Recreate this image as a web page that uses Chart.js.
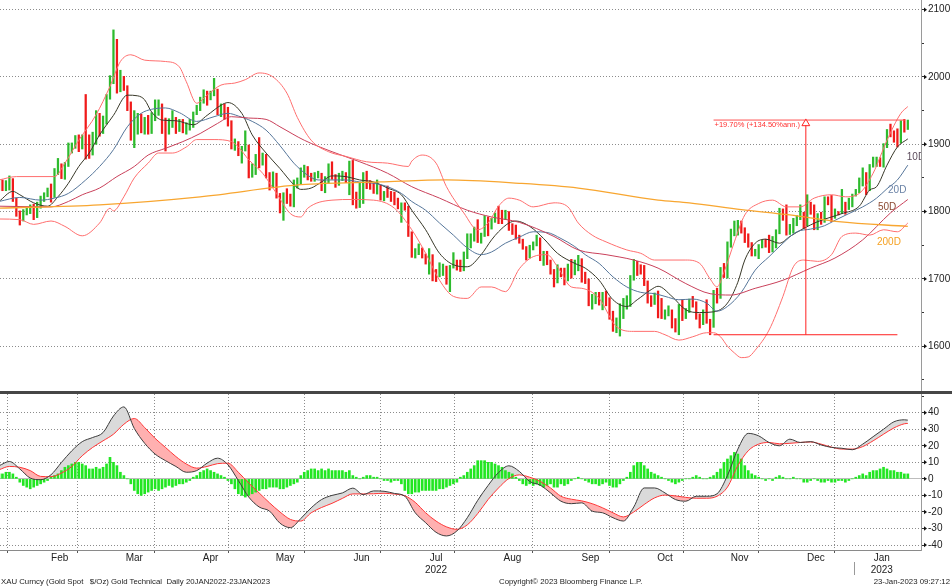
<!DOCTYPE html>
<html><head><meta charset="utf-8">
<script src="https://cdn.jsdelivr.net/npm/chart.js@4.4.1/dist/chart.umd.min.js"></script>
<style>
html,body{margin:0;padding:0;background:#fff;width:952px;height:586px;overflow:hidden;}
#top{position:absolute;left:0;top:0;width:952px;height:391px;}
#sep{position:absolute;left:0;top:391px;width:952px;height:3px;background:#464646;}
#bot{position:absolute;left:0;top:394px;width:952px;height:192px;}
.ft{position:absolute;top:577px;line-height:9px;font-size:7.8px;font-family:"Liberation Sans",Arial,sans-serif;color:#222;white-space:pre;}
</style></head><body>
<div id="top"><canvas id="c1"></canvas></div>
<div id="sep"></div>
<div id="bot"><canvas id="c2"></canvas></div>
<div class="ft" style="left:1px">XAU Curncy (Gold Spot   $/Oz) Gold Technical  Daily 20JAN2022-23JAN2023</div>
<div class="ft" style="left:499px">Copyright© 2023 Bloomberg Finance L.P.</div>
<div class="ft" style="right:2px">23-Jan-2023 09:27:12</div>
<script>
// ---------- DATA (trading-day index 0 = 20 Jan 2022 ... 262 = 23 Jan 2023) ----------
const high = [1848,1847,1846,1853,1849,1820,1801,1803,
1807,1810,1811,1814,1823,1828,1835,1841,1864,1879,1871,1873,1902,1902,1913,1914,1914,1974,1914,1918,
1950,1946,1942,1974,2002,2070,2056,2010,2001,1987,1963,1950,1946,1945,1940,1943,1947,1966,1966,1960,1939,1938,1950,
1940,1937,1937,1932,1937,1948,1958,1970,1981,1979,1979,1998,1982,1960,1960,1955,1935,1908,1904,1897,1920,
1899,1871,1885,1910,1887,1885,1858,1859,1857,1827,1828,1834,1826,1847,1850,1865,1869,1867,1857,1858,1860,1857,
1852,1871,1874,1855,1857,1860,1858,1875,1876,1829,1842,1858,1860,1846,1842,1847,1839,1830,1838,1830,1829,1820,
1813,1813,1808,1770,1745,1752,1746,1737,1745,1736,1714,1724,1722,1719,1720,1739,1728,1728,1740,1767,1767,
1777,1788,1768,1794,1792,1790,1798,1808,1802,1802,1800,1782,1780,1765,1759,1748,1750,1755,1765,1761,1741,1741,1728,
1714,1721,1716,1716,1722,1729,1728,1735,1730,1710,1700,1677,1680,1680,1680,1682,1672,1652,1642,1663,1671,1675,
1705,1729,1726,1721,1720,1697,1675,1679,1682,1671,1654,1660,1654,1641,1662,1669,1656,1670,1674,1666,1648,
1654,1669,1640,1683,1686,1717,1723,1755,1774,1786,1787,1786,1776,1767,1754,1744,1751,1758,1759,1765,1763,1773,
1805,1804,1810,1781,1790,1794,1810,1799,1825,1814,1810,1797,1799,1822,1822,1824,1804,1800,1833,1814,1820,1826,
1833,1850,1865,1858,1870,1881,1881,1880,1901,1922,1930,1920,1923,1935,1937,1936];
const low = [1832,1831,1831,1832,1815,1793,1780,1786,
1795,1797,1788,1791,1805,1815,1822,1814,1821,1855,1849,1848,1867,1887,1894,1889,1893,1878,1879,1884,
1900,1912,1916,1930,1967,1990,1976,1978,1980,1950,1906,1895,1915,1917,1915,1915,1916,1935,1943,1916,1890,1915,1925,
1916,1919,1917,1915,1921,1925,1944,1950,1961,1958,1966,1972,1944,1941,1937,1927,1893,1891,1883,1872,1890,
1850,1851,1855,1865,1869,1850,1832,1836,1820,1798,1787,1812,1808,1807,1835,1840,1851,1847,1845,1845,1850,1831,
1828,1842,1848,1836,1839,1846,1843,1825,1810,1805,1806,1812,1834,1833,1827,1826,1817,1816,1821,1815,1810,1804,
1784,1802,1763,1732,1731,1736,1731,1722,1707,1697,1696,1703,1705,1692,1681,1716,1713,1711,1712,1730,1746,
1756,1754,1753,1763,1764,1774,1784,1782,1782,1788,1772,1766,1759,1753,1744,1728,1731,1743,1749,1727,1720,1721,1707,
1688,1694,1703,1691,1697,1701,1706,1712,1695,1693,1660,1655,1663,1661,1654,1660,1640,1622,1620,1615,1641,1655,
1659,1698,1705,1707,1690,1664,1659,1662,1642,1641,1640,1645,1627,1621,1617,1638,1641,1650,1658,1640,1627,
1632,1634,1617,1628,1664,1671,1702,1701,1747,1764,1765,1768,1754,1747,1734,1734,1730,1746,1747,1739,1740,1746,
1767,1787,1765,1766,1768,1779,1788,1775,1779,1796,1773,1773,1781,1784,1810,1785,1790,1795,1797,1796,1803,1807,
1823,1828,1838,1825,1831,1866,1867,1867,1866,1895,1911,1903,1896,1902,1918,1922];
const close = [1840,1835,1843,1848,1818,1797,1791,1797,
1801,1807,1805,1808,1821,1826,1833,1827,1859,1871,1853,1870,1898,1898,1906,1898,1910,1903,1889,1909,
1943,1922,1935,1970,1998,2050,1988,2000,1988,1960,1917,1928,1943,1921,1935,1921,1944,1958,1958,1923,1920,1933,1937,
1925,1932,1923,1925,1932,1946,1954,1966,1977,1970,1975,1979,1950,1958,1951,1932,1898,1904,1886,1894,1897,
1863,1868,1881,1876,1883,1854,1838,1853,1822,1811,1825,1818,1816,1841,1846,1853,1866,1853,1851,1853,1856,1837,
1848,1869,1851,1841,1852,1853,1848,1871,1819,1809,1834,1857,1840,1839,1832,1838,1822,1827,1823,1820,1817,1807,
1811,1808,1764,1739,1740,1742,1733,1725,1735,1711,1708,1709,1711,1696,1718,1727,1719,1717,1734,1756,1766,
1772,1760,1765,1791,1775,1789,1794,1792,1789,1802,1779,1775,1761,1758,1747,1736,1748,1751,1758,1737,1738,1723,1711,
1697,1712,1710,1702,1718,1708,1716,1725,1702,1697,1665,1675,1675,1664,1673,1671,1644,1622,1629,1660,1660,1661,
1699,1725,1716,1712,1695,1668,1666,1673,1666,1644,1650,1652,1629,1627,1657,1649,1652,1665,1663,1645,1633,
1647,1636,1630,1681,1676,1712,1706,1755,1771,1771,1778,1774,1761,1751,1738,1741,1750,1755,1754,1741,1750,1768,
1802,1797,1769,1770,1787,1789,1797,1781,1810,1807,1777,1793,1788,1817,1814,1792,1798,1797,1814,1804,1815,1824,
1828,1839,1855,1833,1865,1872,1877,1876,1897,1920,1917,1908,1904,1932,1926,1930];

const ma10X = [0,4,6,10,14,17,20,23,26,29,33,37,40,42,44,47,51,56,60,64,66,70,73,77,81,85,87,90,93,96,100,104,108,112,116,119,123,127,131,135,139,142,144,147,149,153,157,161,166,169,173,177,181,184,188,190,194,198,202,206,210,213,215,218,221,225,228,232,236,240,243,248,251,253,256,259,262];
const ma10 = [1815,1830,1825,1813,1808,1822,1842,1867,1887,1914,1943,1973,1972,1966,1948,1936,1935,1929,1943,1958,1962,1946,1914,1887,1864,1840,1833,1835,1844,1853,1852,1847,1844,1835,1825,1802,1773,1738,1721,1718,1736,1758,1770,1783,1786,1778,1760,1738,1723,1716,1698,1669,1659,1669,1684,1689,1674,1654,1650,1651,1664,1695,1728,1753,1759,1753,1763,1775,1785,1792,1797,1808,1832,1837,1869,1896,1908];
const ma20X = [0,6,12,16,20,25,29,33,37,41,44,48,52,57,62,66,69,73,77,81,85,87,89,92,96,100,104,108,112,116,119,123,127,131,135,139,142,146,150,154,158,162,166,169,173,177,181,185,189,192,196,200,204,207,210,214,218,222,226,230,234,238,241,245,249,253,256,259,262];
const ma20 = [1815,1821,1817,1820,1827,1847,1867,1892,1926,1946,1952,1954,1947,1934,1941,1946,1942,1934,1921,1898,1872,1862,1854,1847,1847,1847,1844,1842,1837,1827,1815,1802,1783,1765,1746,1736,1740,1753,1762,1770,1769,1760,1748,1736,1723,1703,1688,1680,1678,1674,1669,1670,1664,1652,1659,1680,1713,1733,1753,1770,1774,1779,1787,1797,1807,1820,1834,1847,1869];
const ma50X = [0,15,20,24,29,34,39,43,48,53,58,63,67,72,77,81,88,96,104,112,119,127,135,142,150,160,167,175,183,190,198,205,211,218,226,234,241,249,257,262];
const ma50 = [1808,1807,1815,1825,1835,1852,1867,1884,1894,1904,1916,1931,1941,1939,1937,1926,1906,1889,1874,1857,1837,1820,1802,1792,1784,1763,1743,1736,1728,1716,1693,1678,1676,1686,1698,1716,1731,1758,1798,1818];
const ma200X = [0,29,58,87,110,129,150,167,190,199,214,228,242,262];
const ma200 = [1805,1810,1822,1840,1844,1847,1842,1835,1817,1813,1803,1795,1785,1778];
const bbUpX = [0,5,16,19,23,28,32,35,38,42,48,52,54,57,60,64,68,71,75,79,83,86,90,95,100,106,112,118,119,122,126,129,134,138,141,144,147,150,154,160,164,167,171,175,181,185,189,192,198,202,205,207,209,212,215,219,223,227,231,235,240,244,248,252,256,260,262];
const bbUp = [1847,1852,1852,1872,1906,1944,1986,2023,2033,2025,2023,2015,1993,1961,1973,1988,1991,1996,2006,2000,1976,1940,1906,1889,1882,1874,1872,1867,1875,1884,1872,1837,1798,1773,1783,1808,1820,1817,1807,1813,1807,1783,1765,1755,1743,1738,1728,1728,1728,1723,1700,1688,1710,1755,1795,1812,1817,1807,1807,1820,1825,1822,1827,1857,1906,1946,1956];
const bbLoX = [0,6,10,15,19,24,29,32,33,36,39,43,46,50,54,57,62,67,69,72,76,80,84,87,89,96,102,108,114,119,123,127,131,135,139,142,146,150,154,158,161,165,168,173,178,183,189,192,196,200,204,206,208,210,212,214,216,218,222,226,229,232,236,240,243,247,251,255,259,262];
const bbLo = [1789,1788,1781,1786,1778,1764,1783,1805,1801,1822,1850,1872,1887,1887,1896,1907,1907,1904,1896,1877,1857,1827,1797,1792,1805,1817,1818,1817,1805,1773,1738,1698,1674,1671,1688,1688,1681,1715,1733,1736,1718,1688,1686,1671,1629,1622,1622,1617,1609,1614,1620,1620,1614,1600,1590,1583,1584,1594,1624,1674,1718,1728,1726,1736,1763,1768,1765,1773,1770,1783];

// annotation (range low -> high)
const annoLow = 1617, annoHigh = 1936;
const annoLowSpan = [206, 259], annoHighSpan = [206, 261.2], annoArrowX = 232.6;
const annoText = '+19.70% (+134.50%ann.)';

// lower panel
const oscX = [0,3,6,9,12,15,18,21,24,27,30,33,36,39,42,45,48,51,54,57,60,63,66,69,72,75,78,81,84,87,90,93,96,99,102,105,108,111,114,117,120,123,126,129,132,135,138,141,144,147,150,153,156,159,162,165,168,171,174,177,180,183,186,189,192,195,198,201,204,207,210,213,216,219,222,225,228,231,234,237,240,243,246,249,252,255,258,261,262];
const oscMain = [7.9,10.5,6,0.5,-0.5,2.5,9.9,17,22.5,25,
28,38,43.5,30.5,21.5,15,11,7.5,4,5,
9.5,12.5,8.5,-1,-11,-17,-19.5,-26.8,-29.5,-24,
-17.5,-12.5,-10,-8.5,-5.6,-9.5,-7.3,-7.5,-8.8,-10.5,
-20.5,-26.5,-32.3,-34.5,-31.5,-23.5,-13,-4,3.8,7.9,
4.5,-1.6,-3.8,-8.5,-13.5,-15,-14.5,-19.5,-20.5,-23.5,
-25.5,-17,-5.5,-5.5,-8.5,-12.5,-13.5,-10.5,-10.5,-9,
2,18,27.5,26,22,20,24,22,22.5,20.5,
19,18.5,17.6,21,25.5,30,34.5,35.7,35.5];
const oscSignal = [5.5,7.5,7,5,1.5,1.3,3.5,7.5,14,19,
23,27,33,36.5,31,24.5,19,13.5,9,6.5,
7.5,9.2,9.5,4,-2.5,-8.5,-14.5,-20,-24.5,-25.5,
-20.5,-17.3,-14.8,-11.8,-9.1,-9.1,-9,-8.7,-9.2,-10.2,
-14.2,-20.5,-25.5,-29,-30.5,-27.8,-21,-12.5,-5.5,0.2,
2.4,1,-1.5,-5.5,-10.5,-12.3,-13.3,-15,-17.5,-20.5,
-23,-20,-15.5,-11.5,-9.8,-10.3,-11.2,-11.7,-11.7,-10.5,
-5,8,17,21,22,21.2,21.5,22,22.3,21,
19.2,18,18,19.5,23,27,30.8,33.3,33.5];
const oscHist = [3,3,4,4,3, 1, -2,-4,-5,-6,-5,-4, -3,-2,-1, 1,2, 3,5,7,8,9,10,10, 9,8,6,6,7,6,
7,9,13,10,8,4,2,0,
-3,-7,-9,-10,-9,-8,-7,-6,-7,-6,-5,-4,-5,-4,-3,-3,-2,-1,
1,2,4,5,6,5,4,3,2,1,
-1,-3,-6,-9,-10,-11,-10,-9,-8,-7,-6,-6,-5,-5,-5,-6,-6,-5,-4,-3,-2,
2,4,5,6,6,5,
6,5,6,5,5,5,5,4,5,2,
1,0,1,2,2,1,1,
0,-1,-1,-2,-1,-1,
-3,-7,-9,-9,-8,-8,-7,-7,-7,-7,-7,-6,-6,-5,-4,-3,-2,
1,2,4,6,8,
11,11,11,10,10,9,8,7,
5,4,3,1,
-1,-3,-4,-3,-4,-3,-4,-5,-4,-3,
-5,-5,-3,-4,-3,-1,0,1,0,
-1,-2,-3,-3,-4,-3,-2,-4,-5,-5,-3,-1,1,
4,8,10,10,8,6,4,3,2,
1,0,-1,-2,-3,-2,-1,0,0,
1,2,1,0,0,1,2,
4,6,10,12,14,16,15,12,8,5,3,
2,1,0,-1,0,-1,1,2,1,0,0,1,0,
0,-2,-2,-1,0,-1,-2,-2,-1,-2,-2,-1,-1,-2,-1,0,
1,2,3,2,4,5,5,6,7,6,5,5,4,4,3,3];

// axes / tick labels
const monthNames = ['Feb','Mar','Apr','May','Jun','Jul','Aug','Sep','Oct','Nov','Dec','Jan'];
const yearNames  = ['','','','','','2022','','','','','','2023'];
const monthFirst = [8,28,51,72,94,116,137,160,182,203,225,247];
const lastDay = 262;
const priceTicks = [1550,1600,1650,1700,1750,1800,1850,1900,1950,2000,2050,2100];
const oscTicks = [-40,-30,-20,-10,0,10,20,30,40,50];

// ---------- helpers ----------
const FONT = "'Liberation Sans', Arial, sans-serif";
Chart.defaults.font.family = FONT;
Chart.defaults.font.size = 10;
Chart.defaults.color = '#222';
const X_MIN = 0.29, X_MAX = 265.8;
const pts = (xs, ys) => xs.map((x, i) => ({x, y: ys[i]}));
const line = (xs, ys, color, w) => ({type:'line', data: pts(xs, ys), borderColor: color, borderWidth: w || 1,
  pointRadius: 0, cubicInterpolationMode: 'monotone', fill: false, order: 1});

const axisMarks = {
  id: 'axisMarks',
  afterDraw(chart) {
    const {ctx, chartArea: a} = chart;
    const y = chart.scales.y;
    ctx.save();
    ctx.fillStyle = '#111';
    y.ticks.forEach((t, i) => {
      if (!t.label) return;
      const py = y.getPixelForTick(i);
      ctx.beginPath();
      ctx.moveTo(a.right + 3, py - 2.2);
      ctx.lineTo(a.right + 6, py);
      ctx.lineTo(a.right + 3, py + 2.2);
      ctx.closePath();
      ctx.fill();
    });
    ctx.restore();
  }
};

const lineLabels = [
  {text:'10D',  x:261.7, y:1881, color:'#5b4b5b'},
  {text:'20D',  x:256.3, y:1831, color:'#6a82a6'},
  {text:'50D',  x:253.4, y:1806, color:'#8b4a32'},
  {text:'200D', x:253.1, y:1754, color:'#f5a020'}
];
const topText = {
  id: 'topText',
  afterDatasetsDraw(chart) {
    const {ctx, chartArea: a, scales: {x, y}} = chart;
    ctx.save();
    ctx.beginPath(); ctx.rect(a.left, a.top, a.right - a.left, a.bottom - a.top); ctx.clip();
    ctx.textBaseline = 'middle'; ctx.textAlign = 'left';
    ctx.font = '10px ' + FONT;
    lineLabels.forEach(l => { ctx.fillStyle = l.color; ctx.fillText(l.text, x.getPixelForValue(l.x), y.getPixelForValue(l.y)); });
    ctx.font = '7.5px ' + FONT;
    ctx.fillStyle = '#ff3030';
    ctx.fillText(annoText, x.getPixelForValue(annoHighSpan[0]) + 1, y.getPixelForValue(annoHigh) + 5);
    ctx.restore();
  }
};

// ---------- top chart ----------
const barData = high.map((h, i) => ({x: i, y: [low[i], h]}));
const barColors = close.map((c, i) => (i === 0 || c >= close[i - 1]) ? '#2dbb2d' : '#f01a1a');

new Chart(document.getElementById('c1'), {
  type: 'bar',
  data: { datasets: [
    {type:'bar', data: barData, backgroundColor: barColors, barThickness: 1.6, grouped: false, order: 9},
    line(bbUpX, bbUp, '#ff6e6e'),
    line(bbLoX, bbLo, '#ff6e6e'),
    line(ma200X, ma200, '#f8a630', 1.3),
    line(ma50X, ma50, '#c9405a'),
    line(ma20X, ma20, '#56769a'),
    line(ma10X, ma10, '#383828'),
    {type:'line', data: [{x:annoLowSpan[0], y:annoLow},{x:annoLowSpan[1], y:annoLow}], borderColor:'#ff2020', borderWidth:1, pointRadius:0, order:0},
    {type:'line', data: [{x:annoHighSpan[0], y:annoHigh},{x:annoHighSpan[1], y:annoHigh}], borderColor:'#ff5050', borderWidth:1, pointRadius:0, order:0},
    {type:'line', data: [{x:annoArrowX, y:annoLow},{x:annoArrowX, y:annoHigh - 8}], borderColor:'#ff2020', borderWidth:1, pointRadius:0, order:0},
    {type:'scatter', data: [{x:annoArrowX, y:annoHigh - 5}], pointStyle:'triangle', pointRadius:4.5,
      backgroundColor:'#fff', borderColor:'#ff2020', borderWidth:1, order:0}
  ]},
  options: {
    responsive: true, maintainAspectRatio: false, animation: false, events: [],
    layout: {padding: 0, autoPadding: false},
    plugins: {legend: {display: false}, tooltip: {enabled: false}},
    scales: {
      x: {type:'linear', display:false, min:X_MIN, max:X_MAX, offset:false},
      y: {
        position:'right', min:1533.4, max:2114.4,
        afterBuildTicks: s => { s.ticks = priceTicks.map(v => ({value: v})); },
        afterFit: s => { s.width = 31; s.paddingTop = 0; s.paddingBottom = 0; },
        ticks: {callback: v => (v % 100 === 0 ? String(v) : ''), padding: 4, color:'#222', font:{size:10}},
        grid: {color: c => (c.tick && c.tick.value % 100 === 0) ? '#8c8c8c' : 'rgba(0,0,0,0)',
               tickLength: 3, tickColor:'#333', tickWidth: 1},
        border: {display:true, color:'#9a9a9a', dash:[1,2]}
      }
    }
  },
  plugins: [topText, axisMarks]
});

// ---------- bottom chart ----------
const xTicks = [];
monthFirst.forEach((f, k) => {
  const end = k < monthFirst.length - 1 ? monthFirst[k + 1] - 1 : lastDay;
  xTicks.push({value: f - 0.5, b: true, lab: ''});
  xTicks.push({value: (f + end) / 2, b: false, lab: yearNames[k] ? [monthNames[k], yearNames[k]] : monthNames[k]});
});

const yearSep = {
  id: 'yearSep',
  afterDraw(chart) {
    const {ctx, chartArea: a, scales: {x}} = chart;
    const px = Math.round(x.getPixelForValue(monthFirst[11] - 0.5)) + 0.5;
    ctx.save(); ctx.strokeStyle = '#999'; ctx.lineWidth = 1;
    ctx.beginPath(); ctx.moveTo(px, a.bottom + 12); ctx.lineTo(px, a.bottom + 25); ctx.stroke();
    ctx.restore();
  }
};

new Chart(document.getElementById('c2'), {
  type: 'bar',
  data: { datasets: [
    {type:'line', data: pts(oscX, oscMain), borderColor:'#3c3c3c', borderWidth:1, pointRadius:0,
      cubicInterpolationMode:'monotone', order:0,
      fill: {target: 1, above: '#dadada', below: '#ffb0b0'}},
    {type:'line', data: pts(oscX, oscSignal), borderColor:'#ff3535', borderWidth:1, pointRadius:0,
      cubicInterpolationMode:'monotone', order:0, fill:false},
    {type:'bar', data: oscHist.map((v, i) => ({x: i, y: v})), backgroundColor:'#22e622', barThickness: 2, grouped:false, order: 5}
  ]},
  options: {
    responsive: true, maintainAspectRatio: false, animation: false, events: [],
    layout: {padding: 0, autoPadding: false},
    plugins: {legend: {display:false}, tooltip: {enabled:false}, filler: {drawTime: 'beforeDatasetsDraw'}},
    scales: {
      x: {
        type:'linear', min:X_MIN, max:X_MAX, offset:false,
        afterBuildTicks: s => { s.ticks = xTicks.map(t => Object.assign({}, t)); },
        afterFit: s => { s.height = 36; s.paddingLeft = 0; s.paddingRight = 0; },
        ticks: {autoSkip:false, maxRotation:0, minRotation:0, padding:-1, color:'#222', font:{size:10},
                callback: (v, i, t) => t[i].lab},
        grid: {color: c => (c.tick && c.tick.b) ? '#8c8c8c' : 'rgba(0,0,0,0)',
               tickColor: c => (c.tick && c.tick.b) ? '#555' : 'rgba(0,0,0,0)', tickLength: 3},
        border: {display:true, color:'#8a8a8a', width:1, dash:[1,2]}
      },
      y: {
        position:'right', min:-43, max:51.3,
        afterBuildTicks: s => { s.ticks = oscTicks.map(v => ({value: v})); },
        afterFit: s => { s.width = 31; s.paddingTop = 0; s.paddingBottom = 0; },
        ticks: {callback: v => (v === 50 ? '' : String(v)), padding: 4, color:'#222', font:{size:10}},
        grid: {color: c => !c.tick ? '#8c8c8c' : (c.tick.value === 50 ? 'rgba(0,0,0,0)' : (c.tick.value === 0 ? '#bdbdbd' : '#8c8c8c')),
               tickLength: 3, tickColor:'#333'},
        border: {display:true, color:'#9a9a9a', dash: c => (c.tick && c.tick.value === 0) ? [] : [1,2]}
      }
    }
  },
  plugins: [axisMarks, yearSep]
});
</script>
</body></html>
